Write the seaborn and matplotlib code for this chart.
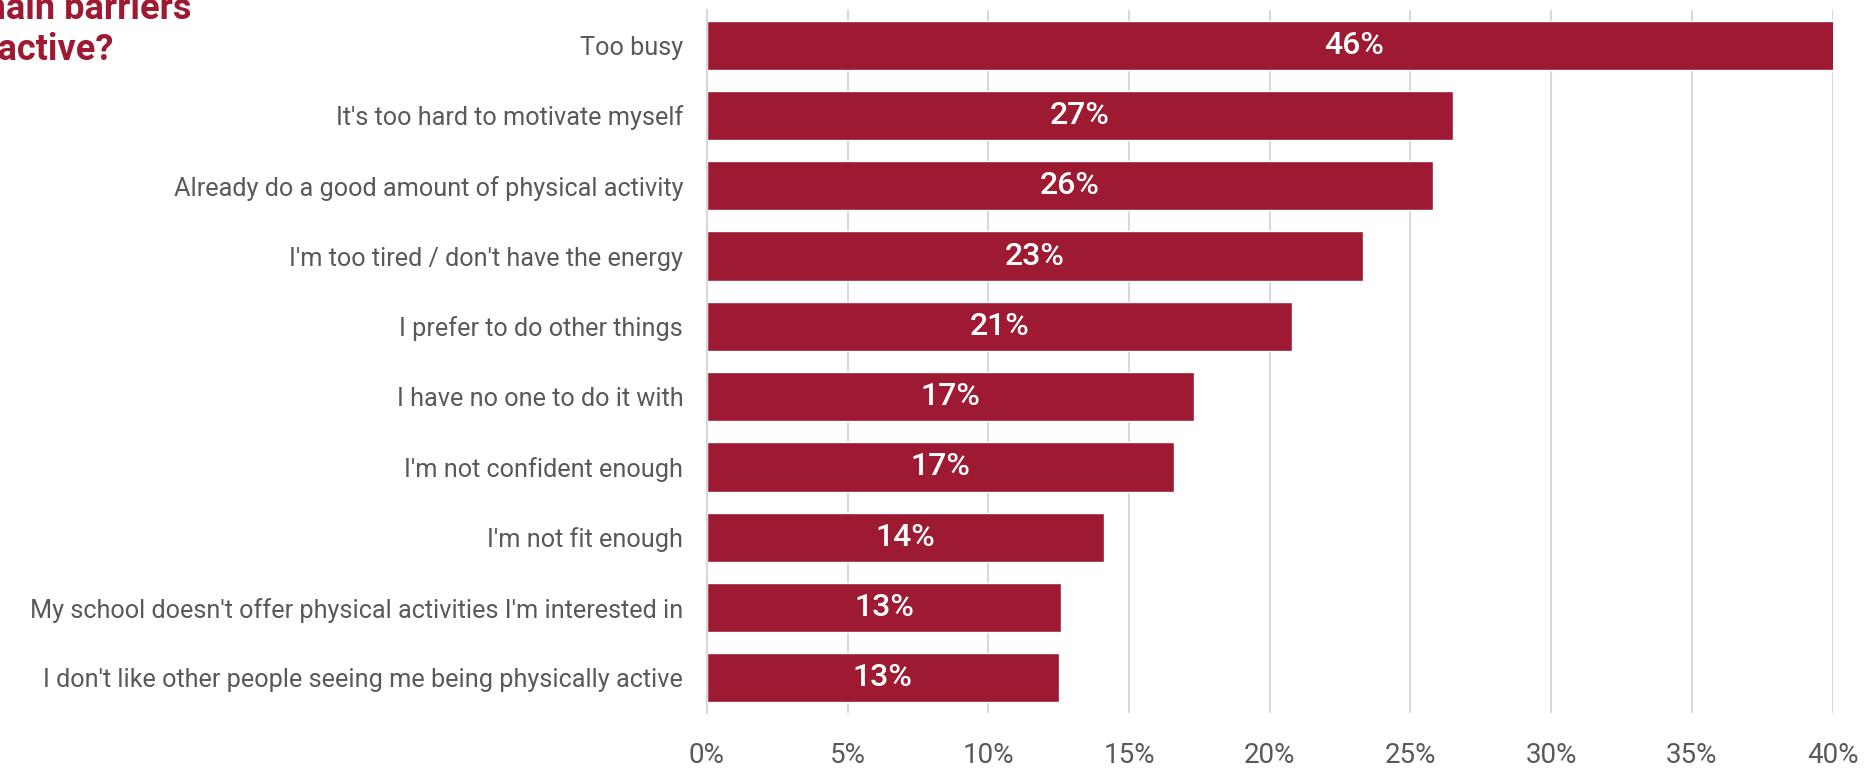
import matplotlib
matplotlib.use("Agg")
import matplotlib.pyplot as plt
import seaborn as sns
import pandas as pd
import numpy as np

categories = [
    "Too busy",
    "It's too hard to motivate myself",
    "Already do a good amount of physical activity",
    "I'm too tired / don't have the energy",
    "I prefer to do other things",
    "I have no one to do it with",
    "I'm not confident enough",
    "I'm not fit enough",
    "My school doesn't offer physical activities I'm interested in",
    "I don't like other people seeing me being physically active",
]
shares = [46.0, 26.5, 25.8, 23.3, 20.8, 17.3, 16.6, 14.1, 12.6, 12.5]
x_ticks = [0, 5, 10, 15, 20, 25, 30, 35, 40]
x_tick_labels = [f"{t}%" for t in x_ticks]
title_lines = ["What are the main barriers", "to being more active?"]

BAR = "#9E1A32"
TEXT = "#595959"
GRID = "#D9D9D9"

sns.set_theme(style="white")
plt.rcParams["font.family"] = ["Roboto", "DejaVu Sans"]

df = pd.DataFrame({"barrier": categories, "share": shares})

fig = plt.figure(figsize=(18.7, 7.72), dpi=100)
ax = fig.add_axes([0.378, 0.0764, 0.602, 0.9106])

ax.set_axisbelow(True)
ax.grid(axis="x", color=GRID, linewidth=1.5)
ax.grid(axis="y", visible=False)

sns.barplot(data=df, x="share", y="barrier", orient="h", color=BAR,
            saturation=1, width=0.7, ax=ax)

ax.set_xlim(0, 40)
ax.set_ylim(len(categories) - 0.5, -0.5)
ax.set_xticks(x_ticks)
ax.set_xticklabels(x_tick_labels, fontsize=20, color=TEXT)
ax.tick_params(axis="x", length=0, pad=21)
ax.tick_params(axis="y", which="major", length=0, pad=17, labelsize=18.2,
               labelcolor=TEXT)
ax.set_yticks(np.arange(-0.5, len(categories), 1.0), minor=True)
ax.tick_params(axis="y", which="minor", length=7, width=1.5, color=GRID)
ax.set_xlabel("")
ax.set_ylabel("")

for side in ["top", "right", "bottom"]:
    ax.spines[side].set_visible(False)
ax.spines["left"].set_color(GRID)
ax.spines["left"].set_linewidth(1.5)

for i, v in enumerate(shares):
    ax.text(v / 2, i, f"{int(v + 0.5)}%", ha="center", va="center",
            color="white", fontsize=23, fontweight="medium", clip_on=False)

fig.text(191 / 1870, 1 - 9 / 772, title_lines[0], ha="right", va="center",
         fontsize=26, fontweight="bold", color=BAR)
fig.text(113 / 1870, 1 - 50 / 772, title_lines[1], ha="right", va="center",
         fontsize=26, fontweight="bold", color=BAR)

fig.savefig("out.png", dpi=100)
